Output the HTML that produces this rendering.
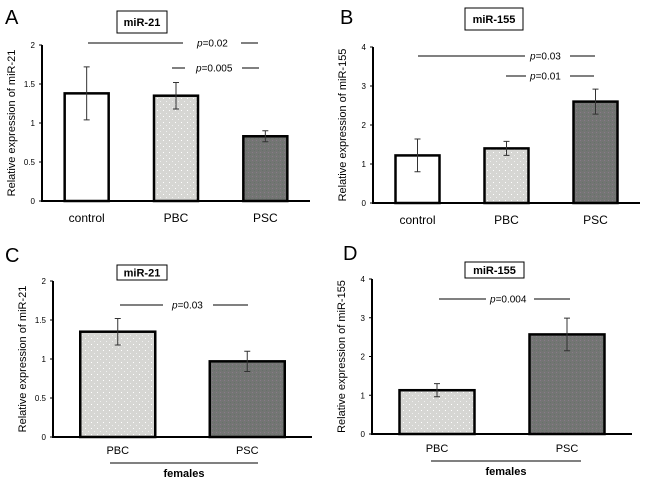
<!DOCTYPE html>
<html><head><meta charset="utf-8"><style>
body{margin:0;background:#fff;}
svg{display:block;font-family:"Liberation Sans",sans-serif;}
</style></head><body>
<svg id="fig" width="646" height="484" viewBox="0 0 646 484" xmlns="http://www.w3.org/2000/svg">
<defs>
<pattern id="dots" width="6" height="6" patternUnits="userSpaceOnUse"><rect width="6" height="6" fill="#d6d6d3"/><rect x="1" y="2" width="1" height="1" fill="#fff"/><rect x="4" y="5" width="1" height="1" fill="#f0f0f0"/></pattern>
<pattern id="dark" width="4" height="4" patternUnits="userSpaceOnUse"><rect width="4" height="4" fill="#737573"/><rect x="0" y="0" width="1" height="1" fill="#8a7a8a"/><rect x="2" y="2" width="1" height="1" fill="#66706a"/></pattern>
</defs>
</svg>
<script>
// Panel A data
const catsA = ["control","PBC","PSC"];
const valsA = [1.38,1.35,0.83];
const errA = [0.34,0.17,0.07];
// Panel B data
const catsB = ["control","PBC","PSC"];
const valsB = [1.22,1.40,2.60];
const errB = [0.42,0.18,0.32];
// Panel C data
const catsC = ["PBC","PSC"];
const valsC = [1.35,0.97];
const errC = [0.17,0.13];
// Panel D data
const catsD = ["PBC","PSC"];
const valsD = [1.13,2.57];
const errD = [0.17,0.42];
const ticks21 = [0,0.5,1,1.5,2];
const ticks155 = [0,1,2,3,4];

const svg = document.getElementById('fig');
const NS = "http://www.w3.org/2000/svg";
function mk(tag, attrs, parent){const e=document.createElementNS(NS,tag);for(const k in attrs)e.setAttribute(k,attrs[k]);(parent||svg).appendChild(e);return e;}

function panel(cfg){
  const g = mk('g',{});
  
  
  const y = v => cfg.y0 - (v/cfg.max)*(cfg.y0-cfg.yTop);
  const lt = mk('text',{x:cfg.lx,y:cfg.ly,'font-size':20,fill:'#000'},g); lt.textContent=cfg.id;
   
  const tb = mk('rect',{x:cfg.box[0],y:cfg.box[1],width:cfg.box[2],height:cfg.box[3],fill:'#fff',stroke:'#000','stroke-width':1},g);
   
  const tt = mk('text',{x:cfg.box[0]+cfg.box[2]/2,y:cfg.box[1]+cfg.box[3]/2+4,'font-size':11,'font-weight':'bold','text-anchor':'middle'},g); tt.textContent=cfg.title;
   
  const yl = mk('text',{transform:`translate(${cfg.ax-27},${(cfg.y0+cfg.yTop)/2}) rotate(-90)`,'font-size':11,'text-anchor':'middle'},g); yl.textContent='Relative expression of '+cfg.title;
   
  cfg.ticks.forEach(t=>{
    const tx=mk('text',{x:cfg.ax-7,y:y(t)+3,'font-size':8,'text-anchor':'end'},g); tx.textContent=t;
     
    mk('line',{x1:cfg.ax-3,x2:cfg.ax,y1:y(t),y2:y(t),stroke:'#000'},g);
  });
  const n = cfg.cats.length, pw=(cfg.axR-cfg.ax)/n;
  cfg.cats.forEach((c,i)=>{
    const cx = cfg.ax + pw*(i+0.5);
    const fill = c==='control'?'#fff':(c==='PBC'?'url(#dots)':'url(#dark)');
    const b = mk('rect',{x:cx-cfg.bw/2,y:y(cfg.vals[i]),width:cfg.bw,height:cfg.y0-y(cfg.vals[i]),fill:fill,stroke:'#000','stroke-width':2.5},g);
     
    const hi=y(cfg.vals[i]+cfg.err[i]), lo=y(cfg.vals[i]-cfg.err[i]);
    const eb = mk('path',{d:`M${cx},${hi}V${lo}M${cx-3},${hi}H${cx+3}M${cx-3},${lo}H${cx+3}`,stroke:'#333','stroke-width':1,fill:'none'},g);
     
    const xl = mk('text',{x:cx,y:cfg.labY,'font-size':cfg.labFs,'text-anchor':'middle'},g); xl.textContent=c;
     
  });
  mk('line',{x1:cfg.ax,x2:cfg.ax,y1:cfg.yTop,y2:cfg.y0+1,stroke:'#000','stroke-width':2},g);
  mk('line',{x1:cfg.ax,x2:cfg.axR,y1:cfg.y0,y2:cfg.y0,stroke:'#000','stroke-width':2},g);
  cfg.pv.forEach(p=>{
    mk('line',{x1:p[1],x2:p[2],y1:p[0],y2:p[0],stroke:'#000'},g);
    mk('line',{x1:p[4],x2:p[5],y1:p[0],y2:p[0],stroke:'#000'},g);
    const t=mk('text',{x:p[3],y:p[0]+3.5,'font-size':10},g);
    t.innerHTML='<tspan font-style="italic">p</tspan>='+p[6];
     
  });
  if(cfg.females){
    mk('line',{x1:cfg.females[0],x2:cfg.females[1],y1:cfg.labY+9,y2:cfg.labY+9,stroke:'#000'},g);
    const f=mk('text',{x:(cfg.females[0]+cfg.females[1])/2,y:cfg.labY+23,'font-size':11,'font-weight':'bold','text-anchor':'middle'},g); f.textContent='females';
     
  }
}
panel({id:'A',title:'miR-21',lx:5,ly:24,box:[117,11,50,22],ax:42,axR:310,y0:201,yTop:45,max:2,ticks:ticks21,cats:catsA,vals:valsA,err:errA,bw:44,labY:222,labFs:12,
  pv:[[43,88,183,197,241,258,'0.02'],[68,172,185,196,242,259,'0.005']]});
panel({id:'B',title:'miR-155',lx:340,ly:24,box:[465,8,58,22],ax:373,axR:640,y0:203,yTop:47,max:4,ticks:ticks155,cats:catsB,vals:valsB,err:errB,bw:44,labY:224,labFs:12,
  pv:[[56,418,525,530,570,595,'0.03'],[76,506,526,530,570,594,'0.01']]});
panel({id:'C',title:'miR-21',lx:5,ly:262,box:[117,265,50,15],ax:53,axR:312,y0:437,yTop:281,max:2,ticks:ticks21,cats:catsC,vals:valsC,err:errC,bw:75,labY:454,labFs:11,females:[110,258],
  pv:[[305,120,163,172,213,248,'0.03']]});
panel({id:'D',title:'miR-155',lx:343,ly:260,box:[465,262,59,16],ax:372,axR:632,y0:434,yTop:279,max:4,ticks:ticks155,cats:catsD,vals:valsD,err:errD,bw:75,labY:452,labFs:11,females:[431,581],
  pv:[[299,439,486,490,534,570,'0.004']]});
</script>
</body></html>
